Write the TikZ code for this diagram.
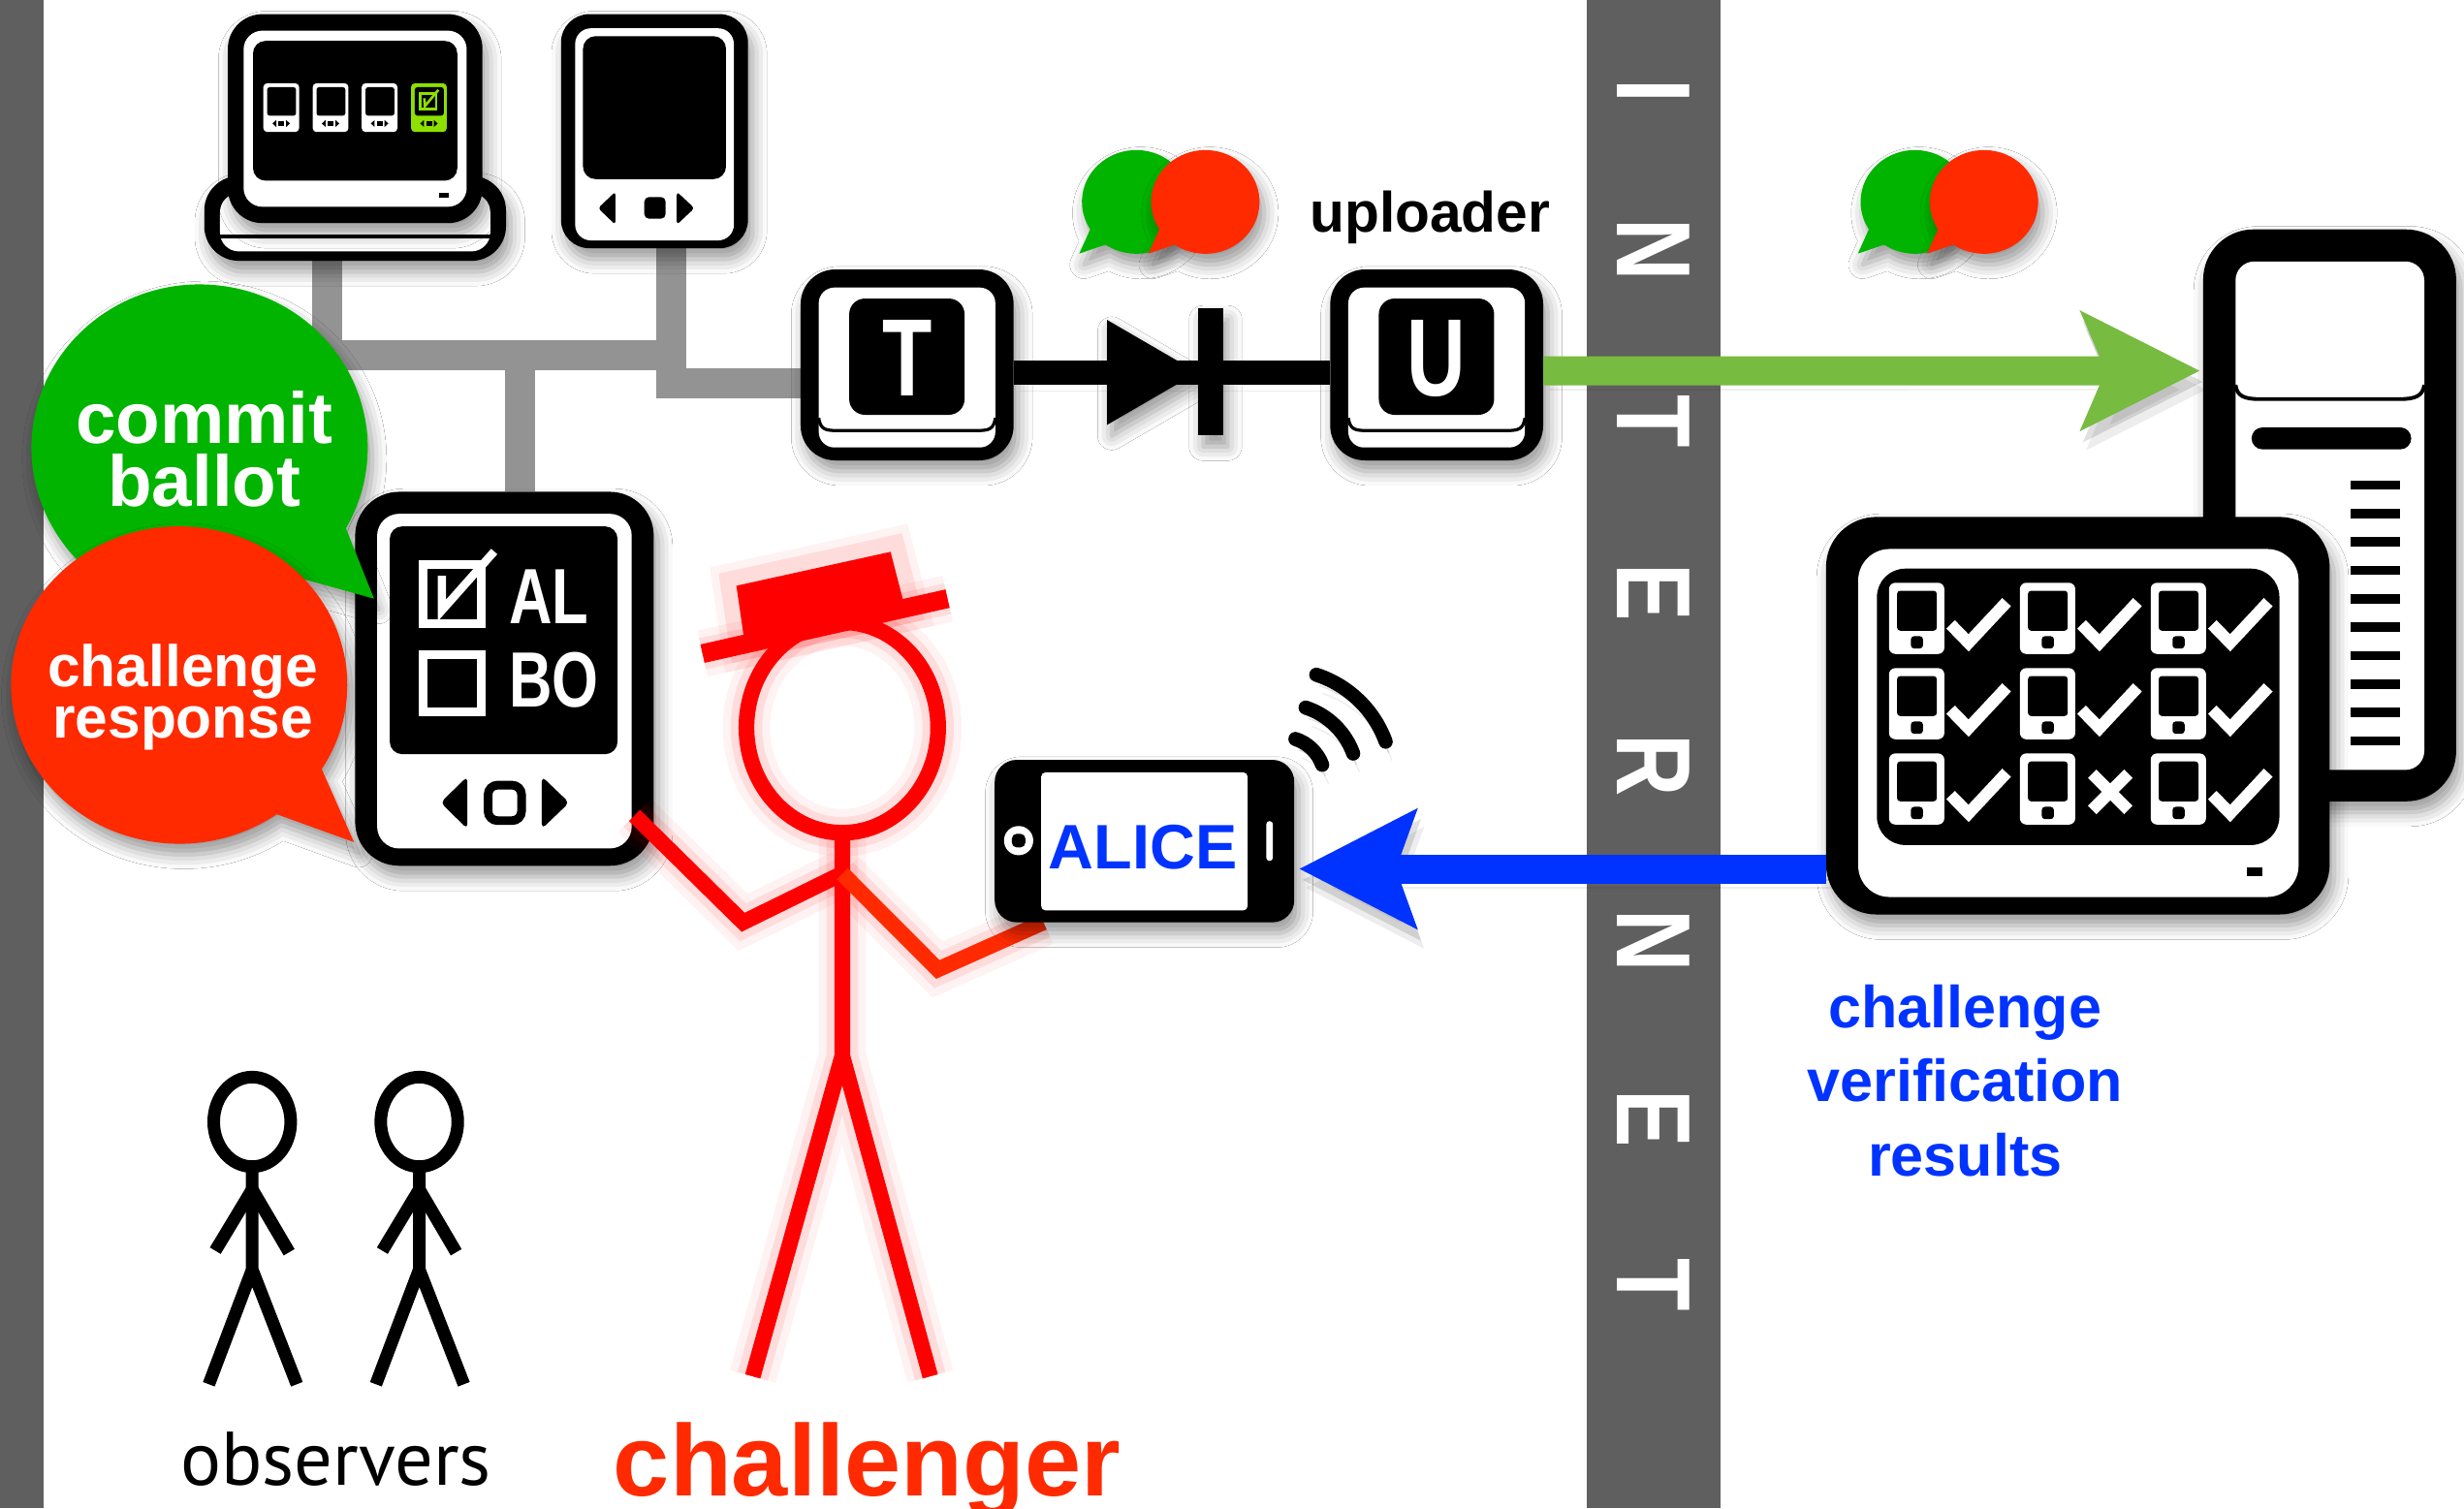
\documentclass[tikz,border=0pt]{standalone}
\usepackage{fontspec}
\usepackage{graphicx}
\setmainfont{Liberation Sans}
\newfontfamily\obsfont{PT Sans}
\usetikzlibrary{arrows.meta,shadows.blur}

\definecolor{netgrey}{HTML}{939393}
\definecolor{wallgrey}{HTML}{5F5F5F}
\definecolor{bubgreen}{HTML}{00B400}
\definecolor{bubred}{HTML}{FF2A00}
\definecolor{upgreen}{HTML}{77BB41}
\definecolor{resblue}{HTML}{0033FF}
\definecolor{figred}{HTML}{FF0000}
\definecolor{litegreen}{HTML}{8DE000}

\tikzset{
  softshadow/.style={blur shadow={shadow xshift=1.5pt, shadow yshift=-3.5pt, shadow blur radius=4.5pt, shadow opacity=40}},
  devfill/.style={fill=black, rounded corners=#1, softshadow},
  frame/.style={inner sep=0pt, outer sep=0pt},
  net/.style={draw=netgrey, line width=9.5pt},
  lineshadow/.style={preaction={draw=black, opacity=.07, transform canvas={xshift=2pt, yshift=-6pt}},
                     preaction={draw=black, opacity=.12, transform canvas={xshift=1pt, yshift=-3.5pt}}},
  inetletter/.style={text=white, inner sep=0pt, rotate=-90, font=\bfseries\fontsize{33.5}{36}\selectfont},
  keyletter/.style={anchor=base, text=white, inner sep=0pt, font=\bfseries\fontsize{35}{40}\selectfont},
  ballotname/.style={anchor=base west, text=white, inner sep=0pt, font=\bfseries\fontsize{23.75}{26}\selectfont},
  bubbletext/.style={anchor=base, text=white, inner sep=0pt, font=\bfseries\fontsize{#1}{#1}\selectfont},
  bluetext/.style={anchor=base, text=resblue, inner sep=0pt, font=\bfseries\fontsize{18.85}{20}\selectfont},
  glow/.style={preaction={draw=figred, line width=15pt, opacity=.05},
               preaction={draw=figred, line width=10pt, opacity=.09}},
  figline/.style={draw=figred, line width=5pt, glow},
  stick/.style={draw=black, line width=4pt},
  okmark/.style={draw=white, line width=3.8pt},
}

\begin{document}
\begin{tikzpicture}[x=0.5pt, y=-0.5pt]
\useasboundingbox (0,0) rectangle (1568,960);
\clip (0,0) rectangle (1568,960);

% ---------- walls and the internet band ----------
\fill[white] (0,0) rectangle (1568,960);
\fill[wallgrey] (0,0) rectangle (28,960);
\fill[wallgrey] (1009.5,0) rectangle (1095,960);
\foreach \ch/\yy [count=\i] in {I/58,N/159,T/268,E/377,R/487,N/599,E/712,T/818}
  \node[inetletter] (inet-\i) at (1052,\yy) {\scalebox{0.82}[1]{\ch}};

% ---------- device outlines (named frames) ----------
\node[frame, minimum width=96pt, minimum height=78.5pt] (kiosk) at (226,87.5) {};
\node[frame, minimum width=59.5pt, minimum height=74.5pt] (tab) at (416.5,83.5) {};
\node[frame, minimum width=95pt, minimum height=119pt] (vtab) at (321,432) {};
\node[frame, minimum width=67.75pt, minimum height=60.75pt] (T) at (577.25,232.25) {};
\node[frame, minimum width=67.75pt, minimum height=60.75pt] (U) at (914.25,232.25) {};
\node[frame, minimum width=80.5pt, minimum height=182pt] (server) at (1482.5,328) {};
\node[frame, minimum width=160.25pt, minimum height=126.5pt] (results) at (1322.25,455.5) {};
\node[frame, minimum width=95.3pt, minimum height=51.7pt] (phone) at (728.3,535.3) {};

% ---------- wired network ----------
\coordinate (hubA) at (427,226);
\coordinate (hubB) at (331,226);
\draw[net] ([xshift=-9pt]kiosk.south) |- (hubA);
\draw[net] (hubB) -- ([xshift=5pt]vtab.north);
\draw[net] ([xshift=5.25pt]tab.south) |- ([yshift=-5.875pt]T.west);

% ---------- kiosk with four ballot tablets ----------
\fill[black, rounded corners=11pt, softshadow] (130,112) rectangle (322,166);
\fill[white, rounded corners=6pt] (140,123) rectangle (312,160);
\draw[black, line width=1.2pt] (140,150.5) -- (312,150.5);
\fill[black, rounded corners=11pt, softshadow] (145,9) rectangle (307,142);
\fill[white, rounded corners=6pt] (155,19.5) rectangle (297,131.6);
\fill[black, rounded corners=4pt] (161,26) rectangle (291,115);
\fill[black] (279.5,122.5) rectangle (285.5,126);
\foreach \mx/\body in {167.6/white, 199.0/white, 230.2/white, 261.6/litegreen} {
  \fill[\body, rounded corners=1.2pt] (\mx,53) rectangle ++(22.7,31);
  \fill[black, rounded corners=0.8pt] (\mx+2.4,55.5) rectangle ++(18.4,18.1);
  \fill[black] (\mx+5.8,78.6) -- (\mx+8.2,76.4) -- (\mx+8.2,80.8) -- cycle;
  \fill[black] (\mx+9.5,76.8) rectangle (\mx+13.2,80.4);
  \fill[black] (\mx+16.9,78.6) -- (\mx+14.5,76.4) -- (\mx+14.5,80.8) -- cycle;
}
\draw[litegreen, line width=0.8pt] (267.5,59.6) rectangle (277.5,69.5);
\draw[litegreen, line width=0.8pt] (270,62.5) -- (270.4,67.5) -- (279,57.2);

% ---------- stand-alone tablet ----------
\fill[devfill=9pt] (tab.south west) rectangle (tab.north east);
\fill[white, rounded corners=5pt] (366,18) rectangle (467,153);
\fill[black, rounded corners=4pt] (371,23) rectangle (462,114);
\fill[black, rounded corners=1pt] (380.6,132.5) -- (391.6,122) -- (391.6,143) -- cycle;
\fill[black, rounded corners=1.5pt] (410,125.4) rectangle (423.6,139.2);
\fill[black, rounded corners=1pt] (441.9,132.5) -- (430.7,122) -- (430.7,143) -- cycle;

% ---------- voting tablet ----------
\fill[devfill=14pt] (vtab.south west) rectangle (vtab.north east);
\fill[white, rounded corners=7pt] (240,327) rectangle (402,540);
\fill[black, rounded corners=4pt] (248,335) rectangle (393,480);
\draw[white, line width=2.75pt] (269.5,359.5) rectangle (306.2,396.8);
\draw[white, line width=2.6pt] (281.2,366.5) -- (281.2,388.5) -- (314.5,351);
\node[ballotname] (cand-a) at (323.6,397) {\scalebox{0.8}[1.05]{AL}};
\draw[white, line width=2.75pt] (269.5,416.4) rectangle (306.2,452.8);
\node[ballotname] (cand-b) at (323.6,450) {\scalebox{0.8}[1.05]{BO}};
\fill[black, rounded corners=1.5pt] (280.4,510.8) -- (297.4,494.2) -- (297.4,527.5) -- cycle;
\draw[black, line width=2.75pt, rounded corners=3pt] (310.6,499.7) rectangle (331.9,522.3);
\fill[black, rounded corners=1.5pt] (362.2,510.8) -- (344.8,494.2) -- (344.8,527.5) -- cycle;

% ---------- speech bubbles ----------
\fill[bubgreen, softshadow] (191.39,368.06)
  arc[start angle=53, end angle=389.5, x radius=107, y radius=104] -- (238,381) -- cycle;
\node[bubbletext=23] (commit) at (130,282.5) {commit};
\node[bubbletext=23] (ballot) at (130,322) {ballot};
\fill[bubred, softshadow] (176.13,518.22)
  arc[start angle=54.5, end angle=392, x radius=107, y radius=101] -- (225.3,536) -- cycle;
\node[bubbletext=18.65] (chal-1) at (116.4,437.3) {challenge};
\node[bubbletext=18.65] (chal-2) at (116.4,470) {response};

% ---------- transmitter and uploader keys ----------
\foreach \kx/\lt in {577.25/T, 914.25/U} {
  \fill[devfill=11pt] (\lt.south west) rectangle (\lt.north east);
  \fill[white, rounded corners=5pt] (\kx-56.25,183) rectangle (\kx+56.15,284.8);
  \draw[black, line width=1pt] (\kx-56.25,266) .. controls (\kx-55.25,273) and (\kx-52.25,274) .. (\kx-45.25,274)
     -- (\kx+45.15,274) .. controls (\kx+52.15,274) and (\kx+55.15,273) .. (\kx+56.15,266);
  \fill[black, rounded corners=5pt] (\kx-36.85,190) rectangle (\kx+36.55,264);
  \node[keyletter] (\lt-glyph) at (\kx,251.8) {\scalebox{0.74}[1]{\lt}};
}
\draw[black, line width=7.7pt, lineshadow] ([yshift=-2.375pt]T.east) -- ([yshift=-2.375pt]U.west);
\coordinate (diode) at (762,237);
\fill[black, softshadow] (diode) -- ++(-57.5,-33.4) -- ++(0,66.8) -- cycle;
\fill[black, softshadow] (762.7,196.4) rectangle (778.3,277.2);

% small bubble pairs
\foreach \bx in {723, 1218.5} {
  \fill[bubgreen, softshadow] (\bx-29.26,145.99)
    arc[start angle=148, end angle=484.5, x radius=34.5, y radius=33] -- (\bx-36.2,161.4) -- cycle;
  \fill[bubred, softshadow] (\bx+14.74,145.99)
    arc[start angle=148, end angle=484.5, x radius=34.5, y radius=33] -- (\bx+7.8,161.4) -- cycle;
}
\node[anchor=base, inner sep=0pt, font=\bfseries\fontsize{18.1}{20}\selectfont] (uploader) at (910,148) {uploader};

% ---------- bulletin board server ----------
\fill[devfill=16pt] (server.south west) rectangle (server.north east);
\fill[white, rounded corners=6pt] (1422.6,166.4) rectangle (1542.7,490);
\draw[black, line width=1.2pt] (1422.6,245) .. controls (1423.5,252) and (1428,254) .. (1438,254)
   -- (1527,254) .. controls (1537,254) and (1541.8,252) .. (1542.7,245);
\fill[black, rounded corners=3.5pt] (1432.8,272) rectangle (1534.4,286);
\foreach \k in {0,...,9}
  \fill[black] (1496,305.7+18.1*\k) rectangle (1527.3,311.6+18.1*\k);

% ---------- verification results display ----------
\fill[devfill=16pt] (results.south west) rectangle (results.north east);
\fill[white, rounded corners=10pt] (1182.5,349.4) rectangle (1462.7,570.9);
\fill[black, rounded corners=9pt] (1194.4,361.9) rectangle (1450.5,537.8);
\fill[black] (1429.7,552) rectangle (1439.6,557.9);
\foreach \cx/\ry/\mk in {1202.1/370.9/c, 1285.4/370.9/c, 1368.6/370.9/c,
                         1202.1/425.2/c, 1285.4/425.2/c, 1368.6/425.2/c,
                         1202.1/479.5/c, 1285.4/479.5/x, 1368.6/479.5/c} {
  \fill[white, rounded corners=2pt] (\cx,\ry) rectangle ++(35.2,45.3);
  \fill[black, rounded corners=1pt] (\cx+5.1,\ry+5.1) rectangle (\cx+30.4,\ry+30.5);
  \fill[black, rounded corners=1pt] (\cx+13.9,\ry+34) rectangle (\cx+21.6,\ry+41.8);
  \if\mk c
    \draw[okmark] (\cx+39.2,\ry+26.5) -- (\cx+50.6,\ry+38.2) -- (\cx+74.8,\ry+12.3);
  \else
    \draw[okmark] (\cx+46,\ry+13) -- (\cx+69,\ry+36) (\cx+69,\ry+13) -- (\cx+46,\ry+36);
  \fi
}

% upload to the bulletin board
\draw[upgreen, line width=9.25pt, -{Stealth[length=37.5pt, width=37pt, inset=7.5pt]}, lineshadow]
  ([yshift=-1.9pt]U.east) -- ([xshift=-1pt, yshift=46pt]server.west);

% ---------- challenger ----------
\draw[figline] (536,463) ellipse[x radius=61, y radius=67];
\draw[figline] (536,530) -- (536,672) -- (479,876) (536,672) -- (592,876);
\draw[figline] (403.8,519) -- (472.9,587) -- (536,556);
\draw[figline, draw=bubred] (536,556) -- (596.8,617) -- (664,587);
\fill[figred, glow] (468.6,372.8) -- (566.7,351.2) -- (576,387) -- (474,410) -- cycle;
\draw[figred, line width=6pt, glow] (447,416) -- (603,381);

% ---------- challenger's phone ----------
\fill[devfill=7pt] (phone.south west) rectangle (phone.north east);
\fill[white, rounded corners=1.5pt] (662.5,491.5) rectangle (794,579.5);
\fill[white] (648.2,535) circle[radius=9.3];
\fill[black, rounded corners=1.5pt] (643.9,530.7) rectangle (652.5,539.3);
\fill[white, rounded corners=1pt] (805.8,522.6) rectangle (810,547.9);
\node[anchor=base, inner sep=0pt, text=resblue, font=\bfseries\fontsize{20}{24}\selectfont] (alice) at (727.25,552.7) {ALICE};
\foreach \r in {27,48,70}
  \draw[black, line width=4.5pt, line cap=round, lineshadow] (816,496) ++(-72:\r) arc[start angle=-72, end angle=-20, radius=\r];

% verification results back to the phone
\draw[resblue, line width=9.25pt, -{Stealth[length=37pt, width=37pt, inset=6.2pt]}, lineshadow]
  ([yshift=-48.75pt]results.west) -- ([xshift=1.5pt, yshift=-8.85pt]phone.east);

% ---------- observers ----------
\foreach \ox in {160.5, 266.8} {
  \draw[stick] (\ox,714) ellipse[x radius=24.5, y radius=28.5];
  \draw[stick] (\ox,742.5) -- (\ox,808) -- (\ox-27.6,881) (\ox,808) -- (\ox+28.4,881);
  \draw[stick] (\ox-23.5,796) -- (\ox,757) -- (\ox+23.5,797);
}

% ---------- labels ----------
\node[anchor=base, inner sep=0pt, font=\obsfont\fontsize{24.2}{27}\selectfont] (observers) at (213.75,945) {observers};
\node[anchor=base, inner sep=0pt, text=bubred, font=\bfseries\fontsize{32.25}{36}\selectfont] (challenger) at (551.7,952) {challenger};
\node[bluetext] (res-1) at (1250.5,654) {challenge};
\node[bluetext] (res-2) at (1250.5,701.2) {verification};
\node[bluetext] (res-3) at (1250.5,748.5) {results};
\end{tikzpicture}
\end{document}
